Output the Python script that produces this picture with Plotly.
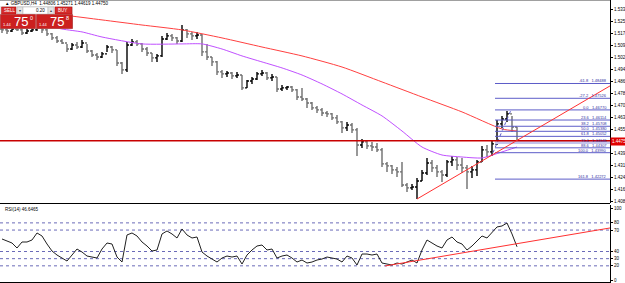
import plotly.graph_objects as go

# ---------------- DATA ----------------
symbol_title = "GBPUSD,H4  1.44806 1.45271 1.44619 1.44750"
rsi_title = "RSI(14) 46.6465"
bid_big, bid_pre, bid_sup = "75", "1.44", "0"
ask_big, ask_pre, ask_sup = "75", "1.44", "8"
lot_text = "0.20"
last_price = 1.44750
hline_price = 1.4477

first_open = 1.5203
highs = [1.5216, 1.5210, 1.5216, 1.5223, 1.5210, 1.5203, 1.5216, 1.5223, 1.5216, 1.5203,
         1.5177, 1.5158, 1.5138, 1.5106, 1.5112, 1.5119, 1.5132, 1.5106, 1.5067, 1.5047,
         1.5054, 1.5099, 1.5093, 1.5067, 1.4989, 1.5119, 1.5138, 1.5132, 1.5112, 1.5086,
         1.5047, 1.5041, 1.5158, 1.5177, 1.5171, 1.5151, 1.5229, 1.5203, 1.5184, 1.5184,
         1.5171, 1.5106, 1.5021, 1.4995, 1.4937, 1.4930, 1.4924, 1.4924, 1.4904, 1.4872,
         1.4891, 1.4924, 1.4937, 1.4924, 1.4911, 1.4891, 1.4839, 1.4833, 1.4833, 1.4813,
         1.4820, 1.4755, 1.4729, 1.4703, 1.4690, 1.4670, 1.4657, 1.4644, 1.4605, 1.4599,
         1.4592, 1.4560, 1.4488, 1.4482, 1.4469, 1.4462, 1.4430, 1.4339, 1.4319, 1.4306,
         1.4339, 1.4202, 1.4196, 1.4235, 1.4287, 1.4365, 1.4352, 1.4319, 1.4287, 1.4352,
         1.4378, 1.4371, 1.4365, 1.4319, 1.4313, 1.4352, 1.4443, 1.4449, 1.4482, 1.4612,
         1.4638, 1.4670, 1.4638, 1.4566]
lows = [1.5177, 1.5171, 1.5184, 1.5190, 1.5164, 1.5171, 1.5184, 1.5190, 1.5177, 1.5158,
        1.5132, 1.5112, 1.5106, 1.5054, 1.5067, 1.5073, 1.5080, 1.5047, 1.5021, 1.5002,
        1.5015, 1.5054, 1.5047, 1.4963, 1.4911, 1.4924, 1.5093, 1.5093, 1.5054, 1.5028,
        1.4989, 1.4989, 1.5021, 1.5132, 1.5125, 1.5106, 1.5119, 1.5145, 1.5132, 1.5138,
        1.5028, 1.5002, 1.4963, 1.4904, 1.4885, 1.4891, 1.4878, 1.4885, 1.4807, 1.4820,
        1.4846, 1.4872, 1.4898, 1.4872, 1.4865, 1.4794, 1.4800, 1.4807, 1.4794, 1.4742,
        1.4735, 1.4690, 1.4677, 1.4657, 1.4638, 1.4631, 1.4612, 1.4586, 1.4527, 1.4540,
        1.4527, 1.4378, 1.4430, 1.4423, 1.4410, 1.4404, 1.4306, 1.4274, 1.4261, 1.4241,
        1.4176, 1.4144, 1.4157, 1.4098, 1.4215, 1.4254, 1.4274, 1.4241, 1.4209, 1.4241,
        1.4313, 1.4287, 1.4267, 1.4163, 1.4235, 1.4248, 1.4339, 1.4371, 1.4378, 1.4449,
        1.4560, 1.4599, 1.4534, 1.4462]
closes = [1.5197, 1.5190, 1.5203, 1.5197, 1.5177, 1.5190, 1.5197, 1.5210, 1.5197, 1.5171,
          1.5145, 1.5125, 1.5112, 1.5073, 1.5099, 1.5086, 1.5112, 1.5060, 1.5034, 1.5021,
          1.5041, 1.5086, 1.5067, 1.4982, 1.4937, 1.5099, 1.5119, 1.5106, 1.5073, 1.5047,
          1.5015, 1.5028, 1.5138, 1.5158, 1.5145, 1.5125, 1.5197, 1.5171, 1.5158, 1.5164,
          1.5054, 1.5021, 1.4989, 1.4924, 1.4911, 1.4917, 1.4898, 1.4904, 1.4820, 1.4865,
          1.4878, 1.4911, 1.4917, 1.4885, 1.4891, 1.4813, 1.4820, 1.4826, 1.4807, 1.4761,
          1.4748, 1.4722, 1.4690, 1.4677, 1.4657, 1.4651, 1.4625, 1.4599, 1.4560, 1.4579,
          1.4547, 1.4449, 1.4469, 1.4443, 1.4436, 1.4417, 1.4326, 1.4313, 1.4287, 1.4274,
          1.4189, 1.4170, 1.4176, 1.4215, 1.4267, 1.4332, 1.4300, 1.4274, 1.4254, 1.4339,
          1.4352, 1.4319, 1.4300, 1.4274, 1.4287, 1.4339, 1.4417, 1.4404, 1.4456, 1.4586,
          1.4618, 1.4651, 1.4566, 1.4475]

ma_red_idx = [0, 4, 12, 20, 28, 36, 44, 52, 60, 68, 76, 84, 92, 100, 103]
ma_red_val = [1.5320, 1.5310, 1.5294, 1.5262, 1.5229, 1.5197, 1.5145, 1.5086, 1.5028,
              1.4956, 1.4859, 1.4761, 1.4664, 1.4553, 1.4540]
ma_purple_idx = [6, 12, 16, 20, 28, 36, 40, 44, 48, 52, 56, 60, 64, 68, 72, 76, 80, 84,
                 88, 92, 96, 100, 103]
ma_purple_val = [1.5250, 1.5203, 1.5184, 1.5151, 1.5106, 1.5106, 1.5106, 1.5073, 1.5028,
                 1.4989, 1.4950, 1.4904, 1.4846, 1.4781, 1.4709, 1.4638, 1.4540, 1.4436,
                 1.4384, 1.4371, 1.4365, 1.4404, 1.4436]

fib_high = 1.4677
fib_low = 1.4399
fib_start = 98.6
fib_levels = [-61.8, -27.2, 0.0, 23.6, 38.2, 50.0, 61.8, 76.4, 88.6, 100.0, 161.8]

trend_price_x = [83, 121.6]
trend_price_y = [1.4098, 1.4833]

rsi = [57.5, 54.7, 51.9, 44.9, 53.3, 53.3, 56.1, 65.9, 61.7, 50.5,
       40.7, 35.1, 30.9, 26.7, 35.1, 43.5, 39.3, 33.7, 32.3, 30.9,
       43.5, 51.9, 50.5, 32.3, 25.3, 63.1, 65.9, 61.7, 53.3, 47.7,
       40.7, 42.1, 64.5, 68.7, 64.5, 58.9, 71.5, 63.1, 58.9, 60.3,
       39.3, 33.7, 29.5, 25.3, 30.9, 33.7, 32.3, 33.7, 22.5, 35.1,
       42.1, 47.7, 49.1, 42.1, 43.5, 30.9, 33.7, 35.1, 30.9, 25.3,
       28.1, 23.9, 25.3, 28.1, 29.5, 32.3, 30.9, 29.5, 25.3, 33.7,
       30.9, 21.1, 36.5, 36.5, 35.1, 36.5, 23.9, 22.5, 21.1, 23.9,
       22.5, 25.3, 28.1, 23.9, 42.1, 56.1, 51.9, 47.7, 44.9, 56.1,
       60.3, 53.3, 50.5, 42.1, 47.7, 54.7, 61.7, 58.9, 65.9, 74.3,
       75.7, 79.8, 64.5, 46.6]
rsi_levels = [80, 70, 40, 30, 20]
rsi_ticks = [0, 20, 30, 40, 70, 80, 100]
trend_rsi_x = [76.6, 121.6]
trend_rsi_y = [19.8, 72.9]

price_ticks = [1.53330, 1.52550, 1.51770, 1.50990, 1.50210, 1.49430, 1.48650, 1.47870,
               1.47090, 1.46310, 1.45530, 1.43970, 1.43190, 1.42410, 1.41630, 1.40850]

# ---------------- FIGURE ----------------
W, H = 625, 283
PLOT_W = 610
FONT = "Liberation Sans"

def PX(x):
    return x / PLOT_W

def PY(y):
    return 1 - y / H

n = len(closes)
idx = list(range(n))
opens = [first_open] + closes[:-1]

fig = go.Figure()

fig.add_trace(go.Ohlc(
    x=idx, open=opens, high=highs, low=lows, close=closes,
    increasing=dict(line=dict(color="#000000", width=1.4)),
    decreasing=dict(line=dict(color="#6e6e6e", width=1.4)),
    tickwidth=0.4, xaxis="x", yaxis="y", showlegend=False, hoverinfo="skip"))

fig.add_trace(go.Scatter(x=ma_red_idx, y=ma_red_val, mode="lines",
                         line=dict(color="#ff4040", width=1, shape="spline", smoothing=0.6),
                         xaxis="x", yaxis="y", showlegend=False))
fig.add_trace(go.Scatter(x=ma_purple_idx, y=ma_purple_val, mode="lines",
                         line=dict(color="#c050ff", width=1, shape="spline", smoothing=0.6),
                         xaxis="x", yaxis="y", showlegend=False))

# fib retracement
fib_span = fib_high - fib_low
x_right = 121.6
for lvl in fib_levels:
    p = fib_high - lvl / 100.0 * fib_span
    if lvl == 76.4:
        col, wd = "#c4c4ec", 3
    else:
        col, wd = "#5c5cc8", 1
    fig.add_trace(go.Scatter(x=[fib_start, x_right], y=[p, p], mode="lines",
                             line=dict(color=col, width=wd), xaxis="x", yaxis="y",
                             showlegend=False))
    fig.add_annotation(x=1 - 2 / PLOT_W, xref="paper", y=p, yref="y",
                       text=f"{lvl:.1f}   {p:.5f}", showarrow=False, xanchor="right",
                       yanchor="bottom", font=dict(size=4, color="#3030a0", family=FONT),
                       borderpad=0, yshift=-1)
fig.add_trace(go.Scatter(x=[fib_start - 0.4, fib_start + 3.2], y=[fib_low, fib_high],
                         mode="lines", line=dict(color="#5c5cc8", width=1, dash="dot"),
                         xaxis="x", yaxis="y", showlegend=False))

# horizontal red line
fig.add_trace(go.Scatter(x=[-0.4, x_right], y=[hline_price, hline_price], mode="lines",
                         line=dict(color="#c80000", width=1.5), xaxis="x", yaxis="y",
                         showlegend=False))
# trend line price
fig.add_trace(go.Scatter(x=trend_price_x, y=trend_price_y, mode="lines",
                         line=dict(color="#ff3030", width=1), xaxis="x", yaxis="y",
                         showlegend=False))

# RSI
for lv in rsi_levels:
    fig.add_shape(type="line", xref="paper", x0=0, x1=1, yref="y2", y0=lv, y1=lv,
                  line=dict(color="#6a6ab8", width=1, dash="dot"), layer="below")
fig.add_trace(go.Scatter(x=idx, y=rsi, mode="lines", line=dict(color="#202020", width=1),
                         xaxis="x", yaxis="y2", showlegend=False))
fig.add_trace(go.Scatter(x=trend_rsi_x, y=trend_rsi_y, mode="lines",
                         line=dict(color="#ff3030", width=1), xaxis="x", yaxis="y2",
                         showlegend=False))

price_top = 1.4475 + 141 * 0.00065
price_bot = 1.4475 - 62 * 0.00065

fig.update_layout(
    width=W, height=H, margin=dict(l=0, r=W - PLOT_W, t=0, b=0),
    paper_bgcolor="white", plot_bgcolor="white",
    font=dict(family=FONT, size=5, color="#000000"),
    xaxis=dict(range=[-0.4, x_right], anchor="y2", showgrid=False, zeroline=False,
               showticklabels=False, rangeslider=dict(visible=False), showline=False,
               fixedrange=True),
    yaxis=dict(domain=[1 - 203 / H, 1], range=[price_bot, price_top], side="right",
               anchor="x", showgrid=False, zeroline=False, showline=True,
               linecolor="#000000", linewidth=1, ticks="outside", ticklen=2,
               tickcolor="#000000", tickvals=price_ticks,
               ticktext=[f"{v:.5f}" for v in price_ticks],
               tickfont=dict(size=4.5, family=FONT), automargin=False),
    yaxis2=dict(domain=[0, 1 - 205 / H], range=[-4, 105], side="right", anchor="x",
                showgrid=False, zeroline=False, showline=True, linecolor="#000000",
                linewidth=1, ticks="outside", ticklen=2, tickcolor="#000000",
                tickvals=rsi_ticks, ticktext=[str(v) for v in rsi_ticks],
                tickfont=dict(size=4.5, family=FONT), automargin=False),
)

# pane separators / borders
fig.add_shape(type="line", xref="paper", yref="paper", x0=0, x1=1, y0=PY(203.5), y1=PY(203.5),
              line=dict(color="#000000", width=1))
fig.add_shape(type="line", xref="paper", yref="paper", x0=0, x1=1, y0=PY(0.5), y1=PY(0.5),
              line=dict(color="#a0a0a0", width=1))
fig.add_shape(type="line", xref="paper", yref="paper", x0=0, x1=1, y0=PY(282.5), y1=PY(282.5),
              line=dict(color="#000000", width=1))

# current price label
fig.add_annotation(x=1, xref="paper", y=last_price, yref="y", text=f"{last_price:.5f}",
                   showarrow=False, xanchor="left", yanchor="middle", bgcolor="#e00000",
                   font=dict(size=4.5, color="white", family=FONT), borderpad=1)

# titles
fig.add_annotation(x=PX(3), xref="paper", y=PY(4), yref="paper", text="▲ " + symbol_title,
                   showarrow=False, xanchor="left", yanchor="middle",
                   font=dict(size=4.5, color="#000000", family=FONT))
fig.add_annotation(x=PX(3), xref="paper", y=PY(209), yref="paper", text=rsi_title,
                   showarrow=False, xanchor="left", yanchor="middle",
                   font=dict(size=4.5, color="#000000", family=FONT))

# one-click trading panel
def rect(x0, y0, x1, y1, fill, line="#b00000"):
    fig.add_shape(type="rect", xref="paper", yref="paper", x0=PX(x0), x1=PX(x1),
                  y0=PY(y1), y1=PY(y0), fillcolor=fill, line=dict(color=line, width=0.5),
                  layer="above")

def txt(x, y, s, size, color="white", anchor="left"):
    fig.add_annotation(x=PX(x), xref="paper", y=PY(y), yref="paper", text=s,
                       showarrow=False, xanchor=anchor, yanchor="middle",
                       font=dict(size=size, color=color, family=FONT), borderpad=0)

rect(0.5, 6.5, 72.5, 28.5, "#ffffff", "#c8c8c8")
rect(1.5, 7, 16, 14, "#d42c2c")
rect(17, 7, 23, 14, "#e4e4e4", "#b0b0b0")
rect(23, 7, 48, 14, "#ffffff", "#b0b0b0")
rect(48, 7, 54, 14, "#e4e4e4", "#b0b0b0")
rect(55, 7, 72, 14, "#d42c2c")
rect(0.5, 14.5, 35.5, 28.5, "#cc1f1f", "#a01010")
rect(36.5, 14.5, 72.5, 28.5, "#cc1f1f", "#a01010")
txt(3, 10.5, "SELL", 4.5)
txt(57, 10.5, "BUY", 4.5)
txt(20, 10.5, "▾", 4, "#404040", "center")
txt(51, 10.5, "▴", 4, "#404040", "center")
txt(46, 10.5, lot_text, 4.5, "#000000", "right")
txt(2, 24.5, bid_pre, 4)
txt(12.5, 21.5, bid_big, 13)
txt(28.5, 17.5, bid_sup, 5.5)
txt(38, 24.5, ask_pre, 4)
txt(48.5, 21.5, ask_big, 13)
txt(64.5, 17.5, ask_sup, 5.5)

fig.write_html("out.html")
